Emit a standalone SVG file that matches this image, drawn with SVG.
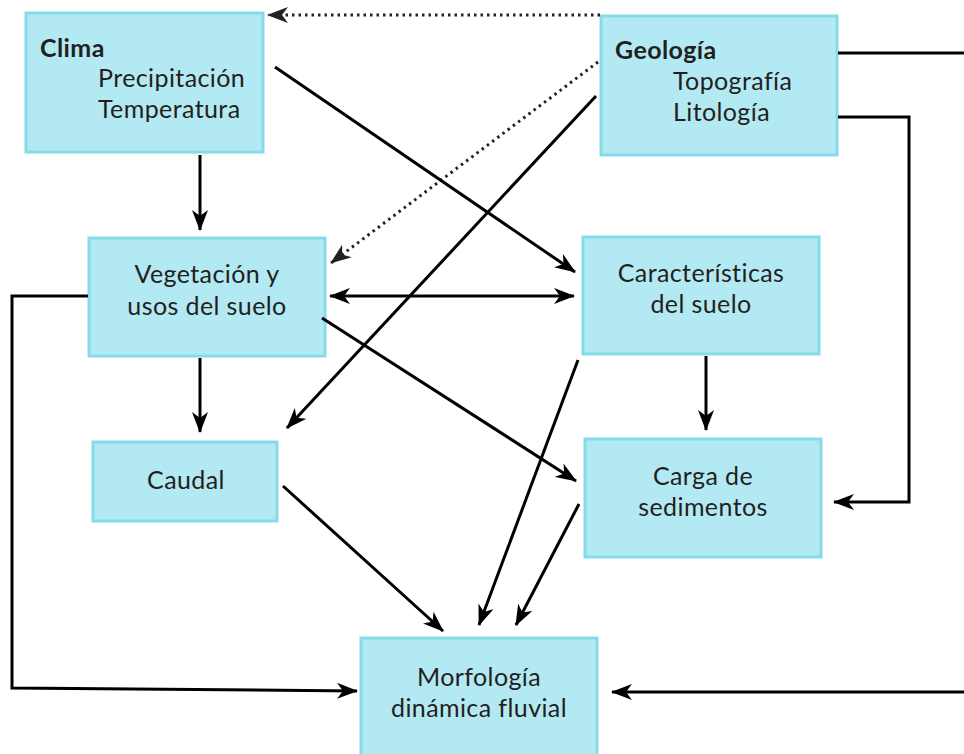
<svg xmlns="http://www.w3.org/2000/svg" width="964" height="754" viewBox="0 0 964 754">
  <style>
    .box { fill: #b3e9f3; stroke: #86dbea; stroke-width: 3; }
    .t { font-family: Lato, "Open Sans", "Liberation Sans", sans-serif; font-size: 25px; letter-spacing: 0.4px; fill: #231f20; }
    .b { font-weight: bold; }
    .c { text-anchor: middle; }
    .ln { fill: none; stroke: #000; stroke-width: 3; }
    .dot { fill: none; stroke: #222; stroke-width: 3; stroke-dasharray: 2.5 4; }
  </style>
  <defs>
    <marker id="ah" markerUnits="userSpaceOnUse" markerWidth="22" markerHeight="16" refX="20" refY="8" orient="auto-start-reverse" viewBox="0 0 22 16">
      <path d="M0,0 L21,8 L0,16 L6,8 Z" fill="#000"/>
    </marker>
    <marker id="ahd" markerUnits="userSpaceOnUse" markerWidth="22" markerHeight="16" refX="20" refY="8" orient="auto" viewBox="0 0 22 16">
      <path d="M0,0 L21,8 L0,16 L6,8 Z" fill="#222"/>
    </marker>
  </defs>

  <g id="clima">
    <rect class="box" x="26" y="13" width="237" height="139"/>
    <text class="t b" x="40" y="57">Clima</text>
    <text class="t" x="98" y="87">Precipitación</text>
    <text class="t" x="98" y="118">Temperatura</text>
  </g>
  <g id="geologia">
    <rect class="box" x="601" y="16" width="236" height="139"/>
    <text class="t b" x="615" y="59">Geología</text>
    <text class="t" x="673" y="90">Topografía</text>
    <text class="t" x="673" y="121">Litología</text>
  </g>
  <g id="vegetacion">
    <rect class="box" x="89" y="238" width="236" height="118"/>
    <text class="t c" x="207" y="283">Vegetación y</text>
    <text class="t c" x="207" y="315">usos del suelo</text>
  </g>
  <g id="caracteristicas">
    <rect class="box" x="583" y="237" width="236" height="117"/>
    <text class="t c" x="701" y="282">Características</text>
    <text class="t c" x="701" y="313">del suelo</text>
  </g>
  <g id="caudal">
    <rect class="box" x="93" y="442" width="184" height="79"/>
    <text class="t c" x="186" y="489">Caudal</text>
  </g>
  <g id="carga">
    <rect class="box" x="585" y="439" width="236" height="118"/>
    <text class="t c" x="703" y="485">Carga de</text>
    <text class="t c" x="703" y="516">sedimentos</text>
  </g>
  <g id="morfologia">
    <rect class="box" x="361" y="638" width="236" height="120"/>
    <text class="t c" x="479" y="686">Morfología</text>
    <text class="t c" x="479" y="717">dinámica fluvial</text>
  </g>

  <g id="connectors">
    <line class="dot" x1="600" y1="15" x2="268" y2="15" marker-end="url(#ahd)"/>
    <line class="dot" x1="598" y1="62" x2="331" y2="263" marker-end="url(#ahd)"/>
    <line class="ln" x1="596" y1="96" x2="287" y2="428" marker-end="url(#ah)"/>
    <line class="ln" x1="275" y1="67" x2="575" y2="272" marker-end="url(#ah)"/>
    <line class="ln" x1="200" y1="155" x2="200" y2="230" marker-end="url(#ah)"/>
    <line class="ln" x1="330" y1="296" x2="574" y2="296" marker-start="url(#ah)" marker-end="url(#ah)"/>
    <polyline class="ln" points="88,296 12,296 12,688 357,691" marker-end="url(#ah)"/>
    <line class="ln" x1="200" y1="358" x2="200" y2="432" marker-end="url(#ah)"/>
    <line class="ln" x1="322" y1="318" x2="576" y2="481" marker-end="url(#ah)"/>
    <line class="ln" x1="706" y1="356" x2="706" y2="430" marker-end="url(#ah)"/>
    <line class="ln" x1="578" y1="360" x2="479" y2="625" marker-end="url(#ah)"/>
    <line class="ln" x1="579" y1="504" x2="516" y2="625" marker-end="url(#ah)"/>
    <line class="ln" x1="283" y1="486" x2="443" y2="631" marker-end="url(#ah)"/>
    <line class="ln" x1="838" y1="53" x2="964" y2="53"/>
    <polyline class="ln" points="838,117 909,117 909,502 834,502" marker-end="url(#ah)"/>
    <line class="ln" x1="964" y1="692" x2="612" y2="692" marker-end="url(#ah)"/>
  </g>
</svg>
